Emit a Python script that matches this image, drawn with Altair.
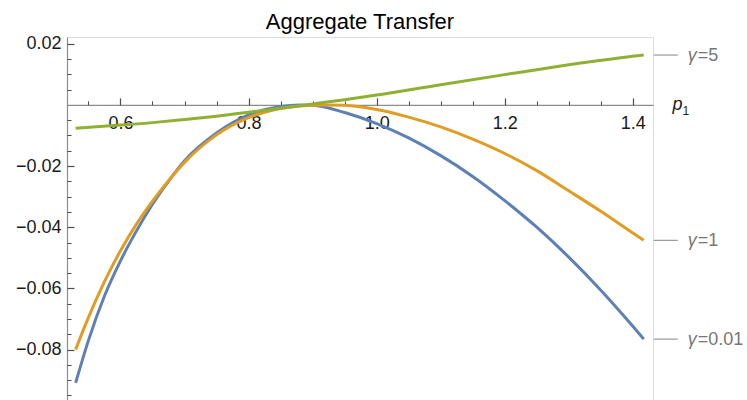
import altair as alt
import pandas as pd

# p1 values and aggregate transfer for each gamma
x_g001 = [0.53, 0.55, 0.575, 0.60, 0.625, 0.65, 0.675, 0.70, 0.75, 0.80, 0.85, 0.88,
          0.90, 0.95, 1.00, 1.05, 1.10, 1.15, 1.20, 1.25, 1.30, 1.35, 1.40, 1.417]
y_g001 = [-0.0909, -0.0770, -0.0625, -0.0510, -0.0412, -0.0325, -0.0250, -0.0183,
          -0.0092, -0.0033, -0.0005, 0.0000, -0.0001, -0.0025, -0.0061, -0.0108,
          -0.0166, -0.0234, -0.0313, -0.0400, -0.0498, -0.0606, -0.0724, -0.0766]

x_g1 = [0.53, 0.55, 0.575, 0.60, 0.625, 0.65, 0.675, 0.70, 0.75, 0.80, 0.85, 0.90,
        0.92, 0.95, 1.00, 1.05, 1.10, 1.15, 1.20, 1.25, 1.30, 1.35, 1.40, 1.417]
y_g1 = [-0.0800, -0.0695, -0.0578, -0.0477, -0.0390, -0.0315, -0.0248, -0.0188,
        -0.0098, -0.0042, -0.0012, -0.0001, 0.0000, -0.0001, -0.0015, -0.0040,
        -0.0072, -0.0112, -0.0159, -0.0215, -0.0281, -0.0348, -0.0419, -0.0443]

x_g5 = [0.53, 0.60, 0.65, 0.70, 0.75, 0.80, 0.85, 0.90, 0.95, 1.00, 1.10, 1.20,
        1.30, 1.40, 1.417]
y_g5 = [-0.0076, -0.0066, -0.0058, -0.0048, -0.0037, -0.0024, -0.0011, 0.0003,
        0.0017, 0.0032, 0.0066, 0.0099, 0.0131, 0.0159, 0.0163]

series_names = ["0.01", "1", "5"]
series_colors = ["#5E81B5", "#E19C24", "#8FB032"]

x_major = [0.6, 0.8, 1.0, 1.2, 1.4]
x_minor = [0.55, 0.65, 0.7, 0.75, 0.85, 0.9, 0.95, 1.05, 1.1, 1.15, 1.25, 1.3, 1.35]
y_major = [-0.08, -0.06, -0.04, -0.02, 0.02]
y_minor = [-0.095, -0.09, -0.085, -0.075, -0.07, -0.065, -0.055, -0.05, -0.045,
           -0.035, -0.03, -0.025, -0.015, -0.01, -0.005, 0.005, 0.01, 0.015, 0.02]

X_DOMAIN = [0.5165, 1.4315]
Y_DOMAIN = [-0.0965, 0.0222]
W, H = 586, 363
FONT = "Liberation Sans"
AXIS_GRAY = "#8c8c8c"
TICK_GRAY = "#4d4d4d"
LABEL_GRAY = "#777777"
TEXT_DARK = "#1a1a1a"

rows = []
for name, xs_, ys_ in zip(series_names, [x_g001, x_g1, x_g5], [y_g001, y_g1, y_g5]):
    for i, (xv, yv) in enumerate(zip(xs_, ys_)):
        rows.append({"gamma": name, "p1": xv, "T": yv, "order": i})
df = pd.DataFrame(rows)

ends = pd.DataFrame({
    "gamma": series_names,
    "p1": [x_g001[-1], x_g1[-1], x_g5[-1]],
    "T": [y_g001[-1], y_g1[-1], y_g5[-1]],
    "rest": ["=" + s for s in series_names],
})

# pixel position of T = 0 inside the plot area
y_zero = H * Y_DOMAIN[1] / (Y_DOMAIN[1] - Y_DOMAIN[0])

xs = alt.Scale(domain=X_DOMAIN, nice=False, zero=False)
ys = alt.Scale(domain=Y_DOMAIN, nice=False, zero=False)

base = alt.Chart(df)


def hidden(x_axis, y_axis):
    return base.mark_point(opacity=0).encode(
        x=alt.X("p1:Q", scale=xs, axis=x_axis),
        y=alt.Y("T:Q", scale=ys, axis=y_axis),
    )


# x axis through the origin: line, labels and the italic p of the axis name
x_main = alt.Axis(
    orient="bottom", offset=-(H - y_zero), values=x_major, format=".1f",
    ticks=False, tickSize=0, grid=False, domainColor=AXIS_GRAY, domainWidth=1.2,
    labelFont=FONT, labelFontSize=18, labelColor=TEXT_DARK,
    labelBaseline="alphabetic", labelPadding=24,
    title="p", titleFont=FONT, titleFontSize=18, titleFontStyle="italic",
    titleFontWeight="normal", titleColor=TEXT_DARK, titleAlign="left",
    titleBaseline="alphabetic", titleX=605, titleY=5, titleAngle=0,
)
# subscript of the axis name
x_sub = alt.Axis(
    orient="bottom", offset=-(H - y_zero), values=x_major, labels=False,
    ticks=False, tickSize=0, domain=False, grid=False,
    title="1", titleFont=FONT, titleFontSize=12, titleFontWeight="normal",
    titleColor=TEXT_DARK, titleAlign="left", titleBaseline="alphabetic",
    titleX=615, titleY=10, titleAngle=0,
)
# upward ticks on the x axis
x_ticks_major = alt.Axis(
    orient="top", offset=-y_zero, values=x_major, labels=False, domain=False,
    grid=False, tickSize=7, tickColor=TICK_GRAY, tickWidth=1.2, title=None,
)
x_ticks_minor = alt.Axis(
    orient="top", offset=-y_zero, values=x_minor, labels=False, domain=False,
    grid=False, tickSize=4, tickColor=TICK_GRAY, tickWidth=1, title=None,
)
# y axis on the left edge: line and labels
y_main = alt.Axis(
    orient="left", values=y_major, format=".2f", ticks=False, tickSize=0,
    grid=False, domainColor=AXIS_GRAY, domainWidth=1.2,
    labelFont=FONT, labelFontSize=18, labelColor=TEXT_DARK,
    labelPadding=6, title=None,
)
y_blank = alt.Axis(
    orient="left", values=y_major, labels=False, ticks=False, tickSize=0,
    domain=False, grid=False, title=None,
)
# rightward ticks on the y axis
y_ticks_major = alt.Axis(
    orient="right", offset=-W, values=y_major, labels=False, domain=False,
    grid=False, tickSize=7, tickColor=TICK_GRAY, tickWidth=1.2, title=None,
)
y_ticks_minor = alt.Axis(
    orient="right", offset=-W, values=y_minor, labels=False, domain=False,
    grid=False, tickSize=4, tickColor=TICK_GRAY, tickWidth=1, title=None,
)

layer_axes1 = hidden(x_main, y_main)
layer_axes2 = hidden(x_ticks_major, y_ticks_major)
layer_axes3 = hidden(x_ticks_minor, y_ticks_minor)
layer_axes4 = hidden(x_sub, y_blank)

lines = base.mark_line(strokeWidth=3, interpolate="monotone").encode(
    x=alt.X("p1:Q", scale=xs, axis=None),
    y=alt.Y("T:Q", scale=ys, axis=None),
    color=alt.Color("gamma:N", scale=alt.Scale(domain=series_names, range=series_colors),
                    legend=None),
    order="order:Q",
)

eb = alt.Chart(ends)
leaders = eb.mark_rule(color="#999999", strokeWidth=1.2, xOffset=10, x2Offset=34).encode(
    x=alt.X("p1:Q", scale=xs, axis=None),
    x2="p1:Q",
    y=alt.Y("T:Q", scale=ys, axis=None),
)
gamma_txt = eb.mark_text(
    text="γ", font=FONT, fontSize=18, fontStyle="italic", color=LABEL_GRAY,
    align="left", baseline="middle", dx=44, dy=1,
).encode(x=alt.X("p1:Q", scale=xs, axis=None), y=alt.Y("T:Q", scale=ys, axis=None))
rest_txt = eb.mark_text(
    font=FONT, fontSize=18, color=LABEL_GRAY, align="left", baseline="middle",
    dx=54, dy=1,
).encode(
    x=alt.X("p1:Q", scale=xs, axis=None),
    y=alt.Y("T:Q", scale=ys, axis=None),
    text="rest:N",
)

chart = alt.layer(
    layer_axes1, layer_axes2, layer_axes3, layer_axes4,
    lines, leaders, gamma_txt, rest_txt,
).resolve_axis(x="independent", y="independent").properties(
    width=W, height=H,
    autosize=alt.AutoSizeParams(type="none"),
    padding={"left": 67, "top": 37, "right": 94, "bottom": 0},
    title=alt.TitleParams(
        "Aggregate Transfer", font=FONT, fontSize=22, fontWeight="normal",
        color="#000000", anchor="middle", baseline="alphabetic", offset=9, dy=25,
    ),
).configure_view(stroke=None).configure(background="white")

chart.save("out.html", embed_options={"renderer": "svg", "actions": False})
